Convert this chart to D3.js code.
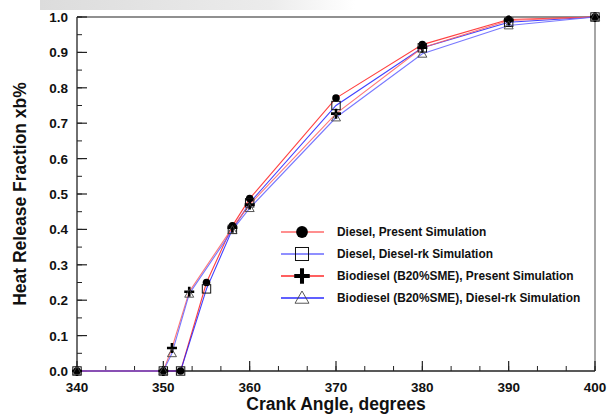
<!DOCTYPE html>
<html lang="en">
<head>
<meta charset="UTF-8">
<title>Heat Release Fraction</title>
<script src="https://d3js.org/d3.v7.min.js"></script>
<style>
    body { margin: 0; background: #fff; font-family: Arial, "Liberation Sans", sans-serif; }
    svg { display: block; }
    .tick-label { font-size: 13.5px; font-weight: bold; fill: #111; }
    .axis-title { font-size: 17.5px; font-weight: bold; fill: #111; }
    .legend-text { font-size: 11.9px; font-weight: bold; fill: #111; }
</style>
</head>
<body>
<svg id="chart" width="607" height="414"></svg>
<script>
// Data
const dieselAngles = [340, 350, 352, 355, 358, 360, 370, 380, 390, 400];
const dieselPresent = [0, 0, 0, 0.25, 0.41, 0.487, 0.771, 0.922, 0.993, 1.0];
const dieselRk = [0, 0, 0, 0.232, 0.40, 0.475, 0.750, 0.913, 0.985, 1.0];

const bioAngles = [340, 350, 351, 353, 358, 360, 370, 380, 390, 400];
const bioPresent = [0, 0, 0.065, 0.224, 0.405, 0.47, 0.727, 0.913, 0.99, 1.0];
const bioRk = [0, 0, 0.05, 0.218, 0.398, 0.46, 0.716, 0.896, 0.976, 1.0];

const seriesNames = [
    "Diesel, Present Simulation",
    "Diesel, Diesel-rk Simulation",
    "Biodiesel (B20%SME), Present Simulation",
    "Biodiesel (B20%SME), Diesel-rk Simulation"
];
const xTicks = [340, 350, 360, 370, 380, 390, 400];
const yTicks = [0.0, 0.1, 0.2, 0.3, 0.4, 0.5, 0.6, 0.7, 0.8, 0.9, 1.0];

const series = [
    { name: seriesNames[0], x: dieselAngles, y: dieselPresent, color: "#ff2020", marker: "circle" },
    { name: seriesNames[1], x: dieselAngles, y: dieselRk, color: "#2020ff", marker: "square" },
    { name: seriesNames[2], x: bioAngles, y: bioPresent, color: "#ff6060", marker: "plus" },
    { name: seriesNames[3], x: bioAngles, y: bioRk, color: "#6060ff", marker: "triangle" }
];

const svg = d3.select("#chart");
const margin = { top: 17, right: 12, bottom: 43, left: 77 };
const width = 607, height = 414;

const x = d3.scaleLinear().domain([340, 400]).range([margin.left, width - margin.right]);
const y = d3.scaleLinear().domain([0, 1]).range([height - margin.bottom, margin.top]);

// light grey shadow at the top of the screenshot
const defs = svg.append("defs");
const grad = defs.append("linearGradient").attr("id", "topShade");
grad.append("stop").attr("offset", "0%").attr("stop-color", "#dcdcdc");
grad.append("stop").attr("offset", "55%").attr("stop-color", "#ececec");
grad.append("stop").attr("offset", "75%").attr("stop-color", "#ffffff");
svg.append("rect").attr("x", 40).attr("y", 0).attr("width", 420).attr("height", 10)
    .attr("fill", "url(#topShade)");

// frame
svg.append("line")
    .attr("x1", x(340)).attr("x2", x(400)).attr("y1", y(1)).attr("y2", y(1))
    .attr("stroke", "#222").attr("stroke-width", 1.2);
svg.append("line")
    .attr("x1", x(400)).attr("x2", x(400)).attr("y1", y(1)).attr("y2", y(0))
    .attr("stroke", "#888").attr("stroke-width", 1.5);

// x axis with inward ticks
const xAxisG = svg.append("g");
xAxisG.append("line")
    .attr("x1", x(340)).attr("x2", x(400)).attr("y1", y(0)).attr("y2", y(0))
    .attr("stroke", "#222").attr("stroke-width", 1.3);
const xMinor = d3.range(0, 19).map(i => 340 + i * 10 / 3);
xAxisG.selectAll(".xminor").data(xMinor).enter().append("line")
    .attr("x1", d => x(d)).attr("x2", d => x(d))
    .attr("y1", y(0)).attr("y2", y(0) - 5)
    .attr("stroke", "#222");
xAxisG.selectAll(".xmajor").data(xTicks).enter().append("line")
    .attr("x1", d => x(d)).attr("x2", d => x(d))
    .attr("y1", y(0)).attr("y2", y(0) - 10)
    .attr("stroke", "#222").attr("stroke-width", 1.2);
xAxisG.selectAll(".xlab").data(xTicks).enter().append("text")
    .attr("class", "tick-label")
    .attr("x", d => x(d)).attr("y", y(0) + 21)
    .attr("text-anchor", "middle")
    .text(d => d);

// y axis with inward ticks
const yAxisG = svg.append("g");
yAxisG.append("line")
    .attr("x1", x(340)).attr("x2", x(340)).attr("y1", y(0)).attr("y2", y(1))
    .attr("stroke", "#222").attr("stroke-width", 1.3);
const yMinor = d3.range(0, 21).map(i => i * 0.05);
yAxisG.selectAll(".yminor").data(yMinor).enter().append("line")
    .attr("x1", x(340)).attr("x2", x(340) + 5)
    .attr("y1", d => y(d)).attr("y2", d => y(d))
    .attr("stroke", "#222");
yAxisG.selectAll(".ymajor").data(yTicks).enter().append("line")
    .attr("x1", x(340)).attr("x2", x(340) + 10)
    .attr("y1", d => y(d)).attr("y2", d => y(d))
    .attr("stroke", "#222").attr("stroke-width", 1.2);
yAxisG.selectAll(".ylab").data(yTicks).enter().append("text")
    .attr("class", "tick-label")
    .attr("x", x(340) - 9).attr("y", d => y(d) + 5)
    .attr("text-anchor", "end")
    .text(d => d3.format(".1f")(d));

// axis titles
svg.append("text").attr("class", "axis-title")
    .attr("x", 336).attr("y", 410)
    .attr("text-anchor", "middle")
    .text("Crank Angle, degrees");
svg.append("text").attr("class", "axis-title")
    .attr("transform", `translate(26,${(y(0) + y(1)) / 2}) rotate(-90)`)
    .attr("text-anchor", "middle")
    .text("Heat Release Fraction xb%");

// marker drawing
function drawMarker(g, type, cx, cy, s) {
    if (type === "circle") {
        g.append("circle").attr("cx", cx).attr("cy", cy).attr("r", 3.8 * s).attr("fill", "#000");
    } else if (type === "square") {
        const h = 4.2 * s;
        g.append("rect").attr("x", cx - h).attr("y", cy - h).attr("width", 2 * h).attr("height", 2 * h)
            .attr("fill", "none").attr("stroke", "#111").attr("stroke-width", 1);
    } else if (type === "plus") {
        const h = 5 * s;
        g.append("path")
            .attr("d", `M${cx - h},${cy}H${cx + h}M${cx},${cy - h}V${cy + h}`)
            .attr("stroke", "#000").attr("stroke-width", 2.6 * s);
    } else if (type === "triangle") {
        const h = 4.5 * s;
        g.append("path")
            .attr("d", `M${cx},${cy - h}L${cx + h},${cy + h * 0.75}L${cx - h},${cy + h * 0.75}Z`)
            .attr("fill", "none").attr("stroke", "#444").attr("stroke-width", 0.9);
    }
}

const line = d3.line().x(d => x(d[0])).y(d => y(d[1]));

series.forEach(s => {
    const pts = s.x.map((v, i) => [v, s.y[i]]);
    svg.append("path").datum(pts)
        .attr("d", line)
        .attr("fill", "none")
        .attr("stroke", s.color)
        .attr("stroke-width", 1.1)
        .attr("stroke-opacity", 0.85);
});
series.forEach(s => {
    const g = svg.append("g");
    s.x.forEach((v, i) => drawMarker(g, s.marker, x(v), y(s.y[i]), 1));
});

// legend
const legend = svg.append("g");
const legendRows = [232, 254, 276, 298];
series.forEach((s, i) => {
    const ly = legendRows[i];
    legend.append("line")
        .attr("x1", 281).attr("x2", 324).attr("y1", ly).attr("y2", ly)
        .attr("stroke", s.color).attr("stroke-width", i >= 2 ? 1.8 : 1.2);
    drawMarker(legend, s.marker, 302, ly, 1.55);
    legend.append("text").attr("class", "legend-text")
        .attr("x", 337).attr("y", ly + 4)
        .text(s.name);
});
</script>
</body>
</html>
